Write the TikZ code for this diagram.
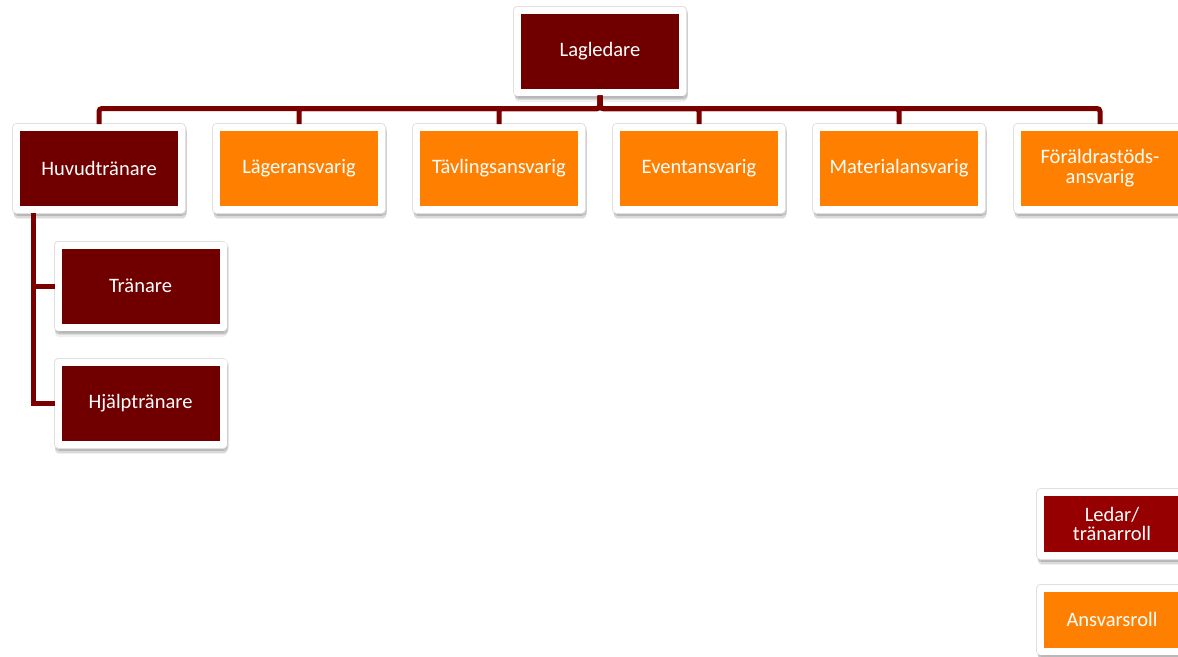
\documentclass[tikz,border=0pt]{standalone}
\usepackage{fontspec}
\setmainfont{Carlito}
\usetikzlibrary{shadows}

\definecolor{leadred}{RGB}{112,0,0}
\definecolor{keyred}{RGB}{150,0,0}
\definecolor{dutyorange}{RGB}{255,128,0}
\definecolor{linkred}{RGB}{122,0,0}

\begin{document}
\begin{tikzpicture}[x=1pt,y=-1pt,
  soft shadow/.style={
    drop shadow={shadow xshift=1pt,shadow yshift=-2pt,opacity=.10,fill=black,draw=black,line width=9pt,line join=round},
    drop shadow={shadow xshift=1pt,shadow yshift=-4pt,opacity=.09,fill=black,draw=black,line width=8pt,line join=round},
    drop shadow={shadow xshift=.5pt,shadow yshift=-6pt,opacity=.06,fill=black,draw=black,line width=7pt,line join=round},
    preaction={draw=black!12,line width=8.5pt,line join=round}},
  role/.style={rectangle,draw=white,line width=7pt,line join=round,minimum width=165pt,minimum height=82pt,
    inner sep=2pt,text=white,align=center,font=\fontsize{20.5}{20}\selectfont,soft shadow},
  lead node/.style={role,fill=leadred},
  duty node/.style={role,fill=dutyorange},
  key node/.style={role,minimum width=143pt,minimum height=63pt,font=\fontsize{20.5}{19}\selectfont},
  link/.style={draw=linkred,line width=5pt,rounded corners=3pt,
    to path={-- ++(0,13) -| (\tikztotarget)}}]

  \useasboundingbox (0,0) rectangle (1178,656);

  \node[lead node] (lag) at (600,51) {Lagledare};

  \node[lead node] (hvt) at (99,168.5) {Huvudtränare};
  \node[duty node] (lag ansv) at (299,168.5) {Lägeransvarig};
  \node[duty node] (tav) at (499,168.5) {Tävlingsansvarig};
  \node[duty node] (evt) at (699,168.5) {Eventansvarig};
  \node[duty node] (mat) at (899,168.5) {Materialansvarig};
  \node[duty node] (for) at (1100,168.5) {Föräldrastöds-\\ansvarig};

  \node[lead node] (tr) at (140.5,286) {Tränare};
  \node[lead node] (hj) at (140.5,403.5) {Hjälptränare};

  \node[key node,fill=keyred] (key1) at (1112,524) {Ledar/\\tränarroll};
  \node[key node,fill=dutyorange] (key2) at (1112,619.5) {Ansvarsroll};

  \path[link]
    (lag.south) edge (hvt.north)
    (lag.south) edge (lag ansv.north)
    (lag.south) edge (tav.north)
    (lag.south) edge (evt.north)
    (lag.south) edge (mat.north)
    (lag.south) edge (for.north)
    ;

  \draw[draw=linkred,line width=5pt] ([xshift=20pt]hvt.south west) |- (tr.west);
  \draw[draw=linkred,line width=5pt] ([xshift=20pt]hvt.south west) |- (hj.west);
\end{tikzpicture}
\end{document}
